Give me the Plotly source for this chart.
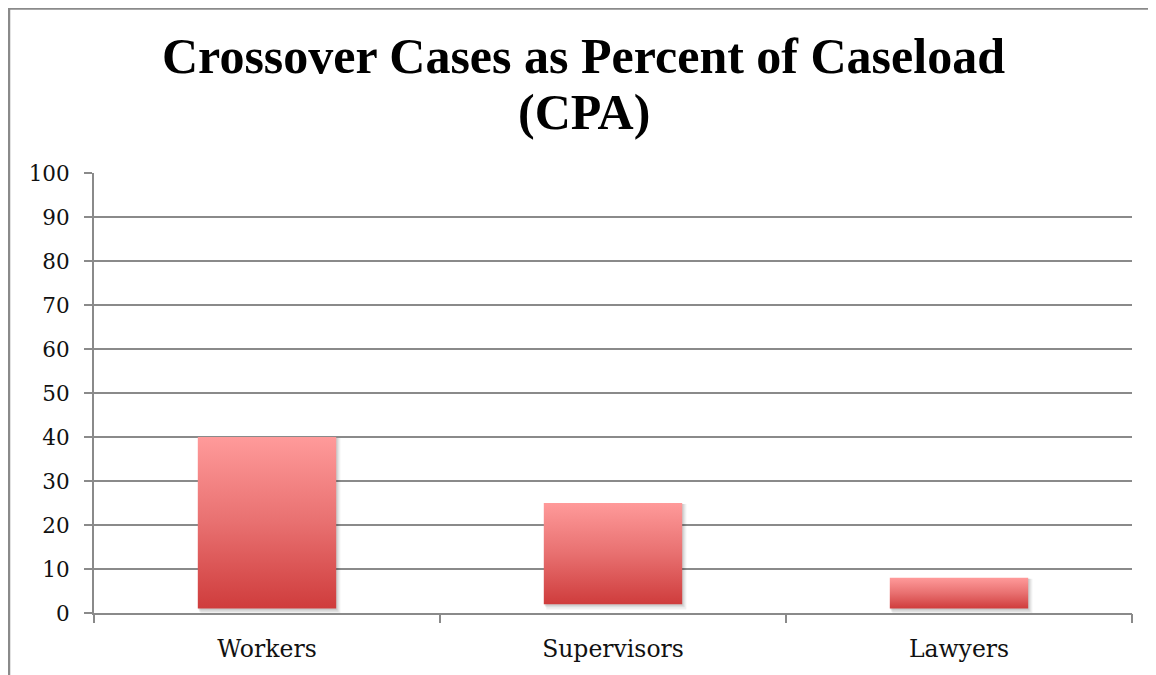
import plotly.graph_objects as go

# ---- data ----
categories = ["Workers", "Supervisors", "Lawyers"]
bar_tops = [40, 25, 8]
bar_bottoms = [1, 2, 1]
y_ticks = [0, 10, 20, 30, 40, 50, 60, 70, 80, 90, 100]
title_lines = ["Crossover Cases as Percent of Caseload", "(CPA)"]

# ---- style ----
GRID = "#8a8a8a"
TOP_COLOR = "rgb(255,154,154)"
BOTTOM_COLOR = "rgb(207,60,60)"
HALF_W = 0.2
SERIF = "Liberation Serif"
X_TICK_FONT = dict(family="DejaVu Serif", size=23.5, color="#111")
Y_TICK_FONT = dict(family="DejaVu Serif", size=21.5, color="#111")

fig = go.Figure()

positions = list(range(len(categories)))

# soft shadows (offset below/right of bars)
for i, top, bot in zip(positions, bar_tops, bar_bottoms):
    for k, a in [(1.2, 0.06), (0.7, 0.08), (0.35, 0.08)]:
        dx = 0.006 * k
        xs = [i - HALF_W + dx, i + HALF_W + dx + 0.004 * k, i + HALF_W + dx + 0.004 * k, i - HALF_W + dx, i - HALF_W + dx]
        ys = [bot - k, bot - k, top - 0.2, top - 0.2, bot - k]
        fig.add_trace(go.Scatter(x=xs, y=ys, fill="toself", mode="none",
                                 fillcolor=f"rgba(0,0,0,{a})", hoverinfo="skip",
                                 showlegend=False))

# gradient bars
for i, top, bot in zip(positions, bar_tops, bar_bottoms):
    xs = [i - HALF_W, i + HALF_W, i + HALF_W, i - HALF_W, i - HALF_W]
    ys = [bot, bot, top, top, bot]
    fig.add_trace(go.Scatter(
        x=xs, y=ys, fill="toself", mode="none",
        fillgradient=dict(type="vertical",
                          colorscale=[[0, BOTTOM_COLOR], [0.5, "rgb(232,112,112)"], [1, TOP_COLOR]]),
        hoverinfo="skip", showlegend=False))

# invisible trace for boundary-tick axis
fig.add_trace(go.Scatter(x=[-0.5, 2.5], y=[0, 0], xaxis="x2", mode="none",
                         hoverinfo="skip", showlegend=False))

for k, line in enumerate(title_lines):
    fig.add_annotation(text=f"<b>{line}</b>", xref="paper", yref="paper",
                       x=0.472, y=[1.265, 1.139][k], xanchor="center", yanchor="middle",
                       showarrow=False,
                       font=dict(family=SERIF, size=50, color="#000"))

fig.update_layout(
    width=1156, height=675,
    margin=dict(l=86, r=32, t=165, b=70),
    paper_bgcolor="white", plot_bgcolor="white",
    showlegend=False,
    xaxis=dict(range=[-0.5, 2.5], tickvals=positions, ticktext=categories,
               ticks="", showgrid=False, zeroline=False,
               showline=True, linecolor=GRID, linewidth=2,
               tickfont=X_TICK_FONT, ticklabelstandoff=14, fixedrange=True),
    xaxis2=dict(range=[-0.5, 2.5], overlaying="x", side="bottom",
                tickvals=[-0.5, 0.5, 1.5, 2.5], showticklabels=False,
                ticks="outside", ticklen=9, tickwidth=2, tickcolor=GRID,
                showgrid=False, zeroline=False, showline=False),
    yaxis=dict(range=[0, 100], tickvals=y_ticks, ticks="outside", ticklen=8,
               tickwidth=2, tickcolor=GRID, showgrid=True, gridcolor=GRID,
               gridwidth=2, zeroline=False, showline=True, linecolor=GRID,
               linewidth=2, tickfont=Y_TICK_FONT, ticklabelstandoff=10),
)

# chart frame (left and top edges visible)
fig.add_shape(type="rect", xref="paper", yref="paper",
              x0=(1 - 86) / 1038, x1=1.1, y0=-0.3, y1=(605 - 0.5) / 440,
              line=dict(color="#8a8a8a", width=2.5), fillcolor="rgba(0,0,0,0)", layer="below")

fig.write_html("out.html")
